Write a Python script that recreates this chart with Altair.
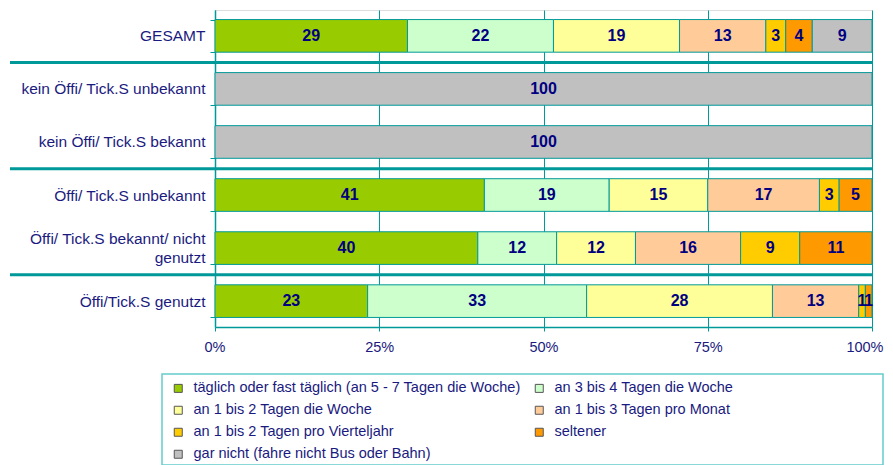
import altair as alt
import pandas as pd

rows = [
    "GESAMT",
    "kein Öffi/ Tick.S unbekannt",
    "kein Öffi/ Tick.S bekannt",
    "Öffi/ Tick.S unbekannt",
    "Öffi/ Tick.S bekannt/ nicht genutzt",
    "Öffi/Tick.S genutzt",
]
categories = [
    "täglich oder fast täglich (an 5 - 7 Tagen die Woche)",
    "an 3 bis 4 Tagen die Woche",
    "an 1 bis 2 Tagen die Woche",
    "an 1 bis 3 Tagen pro Monat",
    "an 1 bis 2 Tagen pro Vierteljahr",
    "seltener",
    "gar nicht (fahre nicht Bus oder Bahn)",
]
colors = ["#99CC00", "#CCFFCC", "#FFFF99", "#FFCC99", "#FFCC00", "#FF9900", "#C0C0C0"]

taeglich = [29, 0, 0, 41, 40, 23]
woche_3_4 = [22, 0, 0, 19, 12, 33]
woche_1_2 = [19, 0, 0, 15, 12, 28]
monat_1_3 = [13, 0, 0, 17, 16, 13]
vierteljahr = [3, 0, 0, 3, 9, 1]
seltener = [4, 0, 0, 5, 11, 1]
gar_nicht = [9, 100, 100, 0, 0, 0]

# group separators are drawn just above these rows
separator_before = ["kein Öffi/ Tick.S unbekannt", "Öffi/ Tick.S unbekannt", "Öffi/Tick.S genutzt"]
x_ticks = [0, 0.25, 0.5, 0.75, 1]

series = [taeglich, woche_3_4, woche_1_2, monat_1_3, vierteljahr, seltener, gar_nicht]
records = []
for ci, (cat, vals) in enumerate(zip(categories, series)):
    for ri, row in enumerate(rows):
        records.append({"row": row, "cat": cat, "order": ci, "value": vals[ri]})
df = pd.DataFrame(records)
sep_df = pd.DataFrame({"row": separator_before})
frame_df = pd.DataFrame({"frame": ["legend"]})

TEAL = "#009999"
NAVY = "#1a1a80"
FONT = "Liberation Sans"
TWO_LINE = "Öffi/ Tick.S bekannt/ nicht genutzt"

yscale = alt.Scale(paddingInner=0.385, paddingOuter=0.18)

base = (
    alt.Chart(df)
    .transform_filter(alt.datum.value > 0)
    .transform_stack(
        stack="value", groupby=["row"], as_=["x0", "x1"], offset="normalize",
        sort=[alt.SortField("order", order="ascending")],
    )
    .transform_calculate(mid="(datum.x0 + datum.x1) / 2")
)

bars = base.mark_bar(stroke=TEAL, strokeWidth=1).encode(
    y=alt.Y(
        "row:N", sort=rows, scale=yscale, title=None,
        axis=alt.Axis(
            labelFont=FONT, labelFontSize=15.5, labelColor=NAVY, labelPadding=5,
            tickBand="extent", tickSize=5, tickColor=TEAL, domainColor=TEAL,
            domainWidth=1.5, minExtent=207, maxExtent=207, labelLimit=300,
            labelLineHeight=19,
            labelOffset=alt.condition(f"datum.label == '{TWO_LINE}'", alt.value(-10), alt.value(0)),
            labelExpr="split(replace(datum.label, 'nicht genutzt', 'nicht|genutzt'), '|')",
        ),
    ),
    x=alt.X(
        "x0:Q", scale=alt.Scale(domain=[0, 1], nice=False), title=None,
        axis=alt.Axis(
            format=".0%", values=x_ticks, labelFont=FONT, labelFontSize=14.5,
            labelColor=NAVY, grid=True, gridColor=TEAL, gridWidth=1,
            domainColor=TEAL, domainWidth=1.5, tickColor=TEAL, tickSize=4,
            labelPadding=9, labelFlush=True, labelFlushOffset=11,
        ),
    ),
    x2="x1:Q",
    color=alt.Color(
        "cat:N",
        scale=alt.Scale(domain=categories, range=colors),
        legend=alt.Legend(
            title=None, orient="none", legendX=-50, legendY=365, columns=2,
            direction="horizontal",
            gridAlign="all", columnPadding=11, rowPadding=7, padding=6,
            symbolType="square", symbolSize=64, symbolStrokeColor="#555555",
            symbolStrokeWidth=1, symbolOpacity=1, labelFont=FONT,
            labelFontSize=14.5, labelColor=NAVY, labelOffset=8, labelLimit=400,
        ),
    ),
)

labels = base.mark_text(font=FONT, fontWeight="bold", fontSize=16, color="#000080").encode(
    y=alt.Y("row:N", sort=rows, scale=yscale),
    x=alt.X("mid:Q"),
    text=alt.Text("value:Q"),
)

seps = alt.Chart(sep_df).mark_rule(color=TEAL, strokeWidth=3).encode(
    y=alt.Y("row:N", sort=rows, scale=yscale, bandPosition=0),
    yOffset=alt.value(-10),
    x=alt.value(-205),
    x2=alt.value(657),
)

legend_frame = alt.Chart(frame_df).mark_rect(
    fill="white", fillOpacity=0, stroke="#66CCCC", strokeWidth=1.5
).encode(
    x=alt.value(-53), x2=alt.value(668), y=alt.value(364), y2=alt.value(455),
)

chart = (
    alt.layer(bars, labels, seps, legend_frame)
    .properties(width=657, height=317, padding={"left": 0, "top": -5, "right": 0, "bottom": 0})
    .configure_view(stroke=TEAL, strokeWidth=1.5)
    .configure(background="white")
)

chart.save("out.html", embed_options={"renderer": "svg", "actions": False})
